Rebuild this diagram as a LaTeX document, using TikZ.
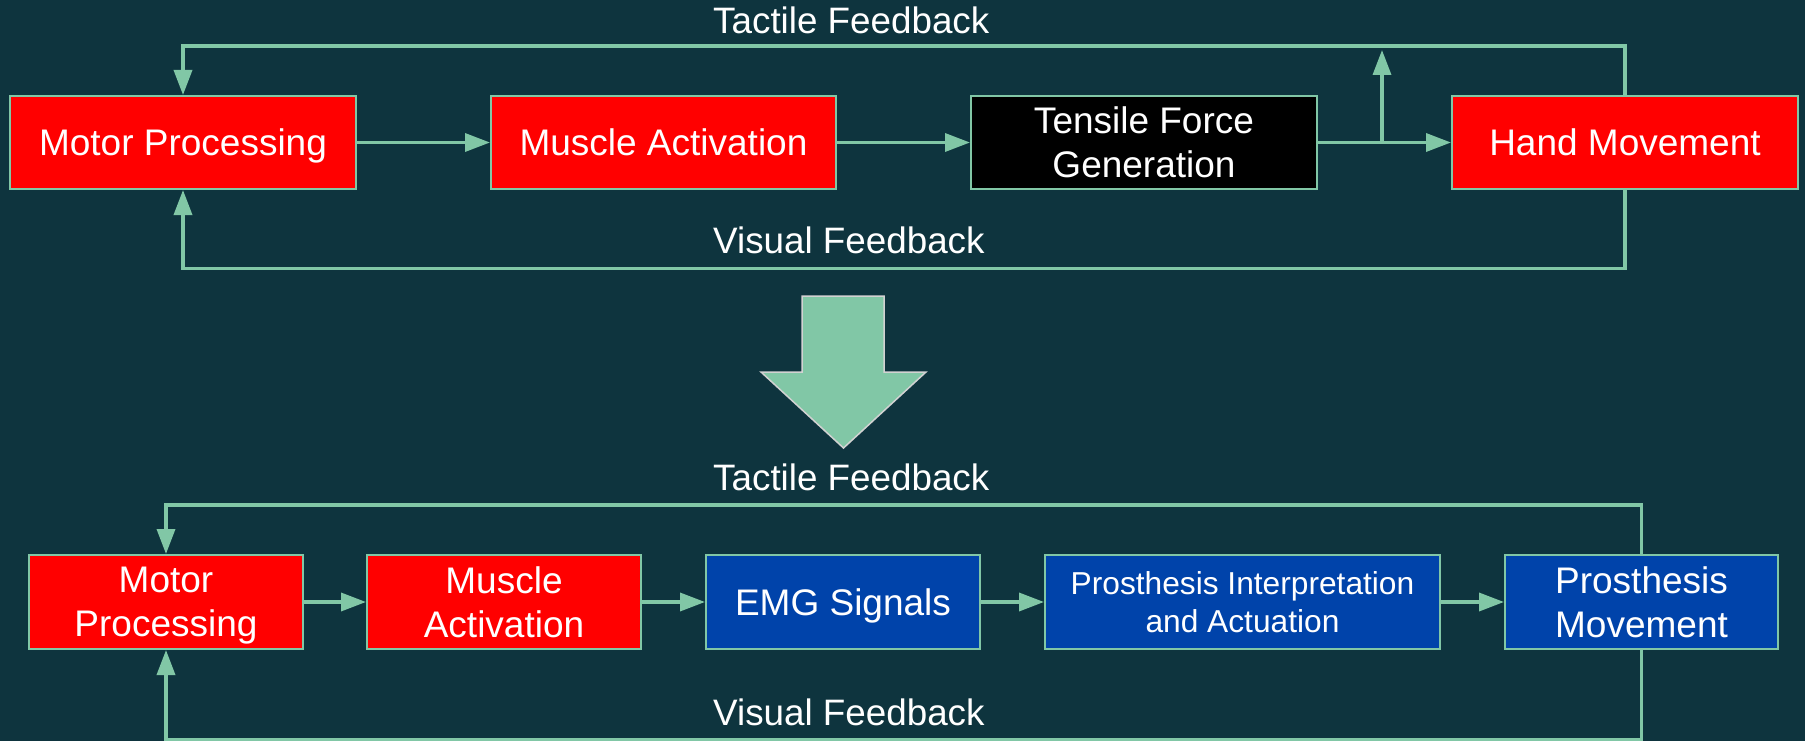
\documentclass[tikz,border=0pt]{standalone}
\usepackage{fontspec}
\setmainfont{Liberation Sans}
\usetikzlibrary{arrows.meta}
\definecolor{bg}{RGB}{14,52,62}
\definecolor{mint}{RGB}{129,199,166}
\definecolor{boxred}{RGB}{255,0,0}
\definecolor{boxblue}{RGB}{0,67,170}
\definecolor{arrowedge}{RGB}{210,210,210}
\begin{document}
\begin{tikzpicture}[x=1pt,y=-1pt,
  box/.style={draw=mint, line width=2pt, text=white, minimum height=93pt, inner sep=0pt, align=center, font=\fontsize{37}{44}\selectfont},
  oneline/.style={text depth=0pt},
  conn/.style={draw=mint, line width=3.5pt, -{Triangle[length=25pt,width=18pt]}},
  lbl/.style={text=white, font=\fontsize{36.8}{40}\selectfont, anchor=base west, inner sep=0pt}]
\fill[bg] (0,0) rectangle (1805,741);
\useasboundingbox (0,0) rectangle (1805,741);

% top row
\node[box, oneline, fill=boxred, minimum width=346pt] (mp1) at (183,142.5) {Motor Processing};
\node[box, oneline, fill=boxred, minimum width=345pt] (ma1) at (663.5,142.5) {Muscle Activation};
\node[box, fill=black, minimum width=346pt] (tf1) at (1144,142.5) {Tensile Force\\Generation};
\node[box, oneline, fill=boxred, minimum width=346pt] (hm1) at (1625,142.5) {Hand Movement};

\coordinate (t1) at (0,46);
\coordinate (v1) at (0,268.5);
\coordinate (br) at (1382,142.5);
\coordinate (brt) at (1382,50);

\draw[conn] (mp1) -- (ma1);
\draw[conn] (ma1) -- (tf1);
\draw[conn] (tf1) -- (hm1);
\draw[conn] (br) -- (brt);
\draw[conn] (hm1.north) |- (mp1.north |- t1) -- (mp1.north);
\draw[conn] (hm1.south) |- (mp1.south |- v1) -- (mp1.south);

\node[lbl] (tl1) at (713,34) {Tactile Feedback};
\node[lbl] (vl1) at (713,253) {Visual Feedback};

% big arrow
\draw[fill=mint, draw=arrowedge, line width=1.5pt] (802,296) -- (884,296) -- (884,372) -- (926,372) -- (843.5,448) -- (761,372) -- (802,372) -- cycle;

% bottom row
\node[box, fill=boxred, minimum width=274pt, minimum height=94pt] (mp2) at (166,602) {};
\node[text=white, align=center, font=\fontsize{37}{44}\selectfont, inner sep=0pt, yshift=-4pt] (mp2t) at (mp2) {Motor\\Processing};
\node[box, fill=boxred, minimum width=274pt, minimum height=94pt] (ma2) at (504,602) {Muscle\\Activation};
\node[box, oneline, fill=boxblue, minimum width=274pt, minimum height=94pt] (emg) at (843,602) {EMG Signals};
\node[box, fill=boxblue, minimum width=395pt, minimum height=94pt, font=\fontsize{31.7}{38}\selectfont] (pi) at (1242.5,602) {Prosthesis Interpretation\\and Actuation};
\node[box, fill=boxblue, minimum width=273pt, minimum height=94pt] (pm) at (1641.5,602) {Prosthesis\\Movement};

\coordinate (t2) at (0,505);
\coordinate (v2) at (0,740);

\draw[conn] (mp2) -- (ma2);
\draw[conn] (ma2) -- (emg);
\draw[conn] (emg) -- (pi);
\draw[conn] (pi) -- (pm);
\draw[conn] (pm.north) |- (mp2.north |- t2) -- (mp2.north);
\draw[conn] (pm.south) |- (mp2.south |- v2) -- (mp2.south);

\node[lbl] (tl2) at (713,490) {Tactile Feedback};
\node[lbl] (vl2) at (713,725) {Visual Feedback};
\end{tikzpicture}
\end{document}
